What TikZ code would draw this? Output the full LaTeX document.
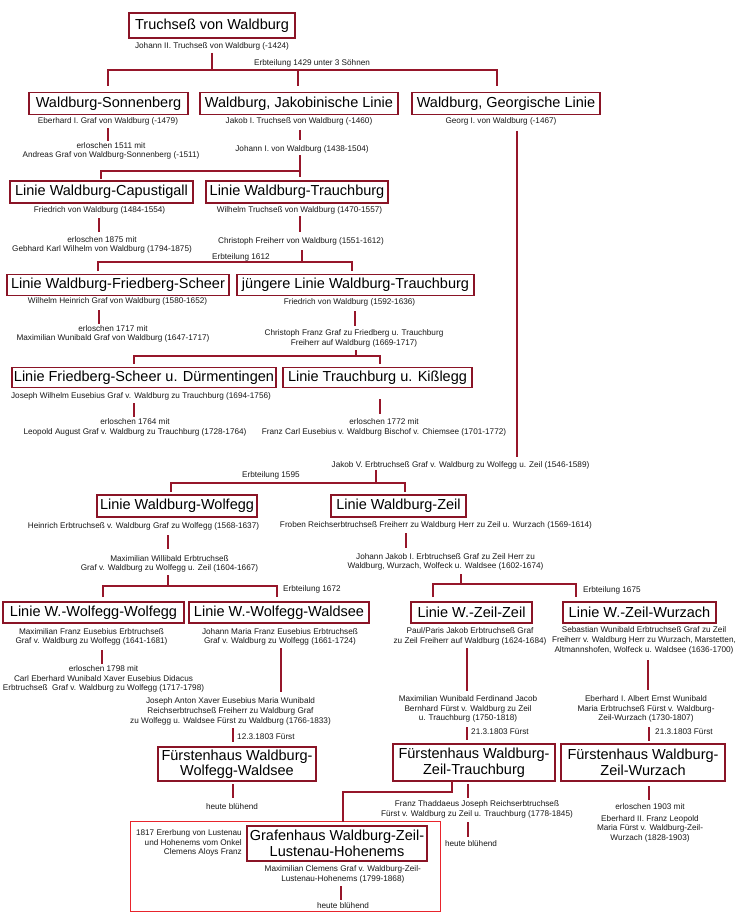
\documentclass[tikz,border=0pt]{standalone}
\usepackage{fontspec}
\setmainfont{Liberation Sans}
\definecolor{boxred}{RGB}{138,20,38}
\definecolor{linered}{RGB}{150,22,42}
\definecolor{outerred}{RGB}{232,36,44}
\definecolor{captxt}{RGB}{25,25,25}
\begin{document}
\begin{tikzpicture}[x=1pt,y=-1pt,
  bx/.style={draw=boxred, line width=1.8pt, fill=white, inner sep=0pt,
    font=\fontsize{14.5}{15.5}\selectfont, align=center, text=black},
  capt/.style={inner sep=0pt, font=\fontsize{8.2}{9.7}\selectfont, align=center, text=captxt},
  lab/.style={capt, anchor=west},
  conn/.style={draw=linered, line width=1.8pt}]
\fill[white] (0,0) rectangle (740,915);
\useasboundingbox (0,0) rectangle (740,915);

% ---------- boxes ----------
\node[bx,minimum width=166pt,minimum height=25pt] (top) at (212,25.5) {Truchseß von Waldburg};
\node[bx,minimum width=159pt,minimum height=22pt] (sonn) at (108.5,103.5) {Waldburg-Sonnenberg};
\node[bx,minimum width=198pt,minimum height=22pt] (jak) at (299,103.5) {Waldburg, Jakobinische Linie};
\node[bx,minimum width=188pt,minimum height=22pt] (georg) at (506,103.5) {Waldburg, Georgische Linie};
\node[bx,minimum width=183pt,minimum height=22pt] (capu) at (101.5,192) {Linie Waldburg-Capustigall};
\node[bx,minimum width=182pt,minimum height=22pt] (trau) at (297,192) {Linie Waldburg-Trauchburg};
\node[bx,minimum width=222pt,minimum height=21pt] (frsch) at (118,285) {Linie Waldburg-Friedberg-Scheer};
\node[bx,minimum width=237pt,minimum height=21pt] (jung) at (355.5,285) {jüngere Linie Waldburg-Trauchburg};
\node[bx,minimum width=264pt,minimum height=20pt] (duer) at (144,377.5) {Linie Friedberg-Scheer u. Dürmentingen};
\node[bx,minimum width=189pt,minimum height=20pt] (kiss) at (377.5,377.5) {Linie Trauchburg u. Kißlegg};
\node[bx,minimum width=160pt,minimum height=22pt] (wolf) at (177,506) {Linie Waldburg-Wolfegg};
\node[bx,minimum width=135pt,minimum height=22pt] (zeil) at (398.5,506) {Linie Waldburg-Zeil};
\node[bx,minimum width=181pt,minimum height=21pt] (www) at (93.5,612.5) {Linie W.-Wolfegg-Wolfegg};
\node[bx,minimum width=180pt,minimum height=21pt] (wwa) at (279,612.5) {Linie W.-Wolfegg-Waldsee};
\node[bx,minimum width=121pt,minimum height=21pt] (zz) at (471.5,612.5) {Linie W.-Zeil-Zeil};
\node[bx,minimum width=153pt,minimum height=21pt] (zw) at (639.5,612.5) {Linie W.-Zeil-Wurzach};
\node[bx,minimum width=158pt,minimum height=34pt] (fww) at (237,764) {Fürstenhaus Waldburg-\\Wolfegg-Waldsee};
\node[bx,minimum width=162pt,minimum height=37pt] (fzt) at (474,762.5) {Fürstenhaus Waldburg-\\Zeil-Trauchburg};
\node[bx,minimum width=164pt,minimum height=37pt] (fzw) at (643,762.5) {Fürstenhaus Waldburg-\\Zeil-Wurzach};
\node[draw=outerred, line width=1.5pt, inner sep=0pt, minimum width=310pt, minimum height=90pt] (frame) at (285.7,866.7) {};
\node[bx,minimum width=180pt,minimum height=35pt] (graf) at (337,843.2) {Grafenhaus Waldburg-Zeil-\\Lustenau-Hohenems};

% ---------- captions ----------
\node[capt] (k1) at (212,46) {Johann II. Truchseß von Waldburg (-1424)};
\node[lab] (e1429) at (254,63) {Erbteilung 1429 unter 3 Söhnen};
\node[capt] (k2) at (108,121.5) {Eberhard I. Graf von Waldburg (-1479)};
\node[capt] (k3) at (299,121.5) {Jakob I. Truchseß von Waldburg (-1460)};
\node[capt] (k4) at (501,121.5) {Georg I. von Waldburg (-1467)};
\node[capt] (k5) at (111,151) {erloschen 1511 mit\\Andreas Graf von Waldburg-Sonnenberg (-1511)};
\node[capt] (k6) at (302,149) {Johann I. von Waldburg (1438-1504)};
\node[capt] (k7) at (99.5,210) {Friedrich von Waldburg (1484-1554)};
\node[capt] (k8) at (299.5,210) {Wilhelm Truchseß von Waldburg (1470-1557)};
\node[capt] (k9) at (102,245) {erloschen 1875 mit\\Gebhard Karl Wilhelm von Waldburg (1794-1875)};
\node[capt] (k10) at (301,241.5) {Christoph Freiherr von Waldburg (1551-1612)};
\node[lab] (e1612) at (212,257) {Erbteilung 1612};
\node[capt] (k11) at (117.5,301.5) {Wilhelm Heinrich Graf von Waldburg (1580-1652)};
\node[capt] (k12) at (349.5,302) {Friedrich von Waldburg (1592-1636)};
\node[capt] (k13) at (113,334) {erloschen 1717 mit\\Maximilian Wunibald Graf von Waldburg (1647-1717)};
\node[capt] (k14) at (354,338.5) {Christoph Franz Graf zu Friedberg u. Trauchburg\\Freiherr auf Waldburg (1669-1717)};
\node[capt] (k15) at (141,396) {Joseph Wilhelm Eusebius Graf v. Waldburg zu Trauchburg (1694-1756)};
\node[capt] (k16) at (135,427.5) {erloschen 1764 mit\\Leopold August Graf v. Waldburg zu Trauchburg (1728-1764)};
\node[capt] (k17) at (384,427.5) {erloschen 1772 mit\\Franz Carl Eusebius v. Waldburg Bischof v. Chiemsee (1701-1772)};
\node[capt] (k18) at (460.5,465) {Jakob V. Erbtruchseß Graf v. Waldburg zu Wolfegg u. Zeil (1546-1589)};
\node[lab] (e1595) at (242,475) {Erbteilung 1595};
\node[capt] (k19) at (143.5,526) {Heinrich Erbtruchseß v. Waldburg Graf zu Wolfegg (1568-1637)};
\node[capt] (k20) at (436,525) {Froben Reichserbtruchseß Freiherr zu Waldburg Herr zu Zeil u. Wurzach (1569-1614)};
\node[capt] (k21) at (169.5,564) {Maximilian Willibald Erbtruchseß\\Graf v. Waldburg zu Wolfegg u. Zeil (1604-1667)};
\node[lab] (e1672) at (283,589) {Erbteilung 1672};
\node[capt] (k22) at (445.5,562) {Johann Jakob I. Erbtruchseß Graf zu Zeil Herr zu\\Waldburg, Wurzach, Wolfeck u. Waldsee (1602-1674)};
\node[lab] (e1675) at (583,590) {Erbteilung 1675};
\node[capt] (k23) at (91.5,637) {Maximilian Franz Eusebius Erbtruchseß\\Graf v. Waldburg zu Wolfegg (1641-1681)};
\node[capt] (k24) at (103.5,679) {erloschen 1798 mit\\Carl Eberhard Wunibald Xaver Eusebius Didacus\\Erbtruchseß\ \ Graf v. Waldburg zu Wolfegg (1717-1798)};
\node[capt] (k25) at (280,637) {Johann Maria Franz Eusebius Erbtruchseß\\Graf v. Waldburg zu Wolfegg (1661-1724)};
\node[capt] (k26) at (230.5,711.5) {Joseph Anton Xaver Eusebius Maria Wunibald\\Reichserbtruchseß Freiherr zu Waldburg Graf\\zu Wolfegg u. Waldsee Fürst zu Waldburg (1766-1833)};
\node[lab] (f1) at (237,737) {12.3.1803 Fürst};
\node[capt] (h1) at (232,807) {heute blühend};
\node[capt] (k27) at (470,636.5) {Paul/Paris Jakob Erbtruchseß Graf\\zu Zeil Freiherr auf Waldburg (1624-1684)};
\node[capt] (k28) at (468,709) {Maximilian Wunibald Ferdinand Jacob\\Bernhard Fürst v. Waldburg zu Zeil\\u. Trauchburg (1750-1818)};
\node[lab] (f2) at (471,732) {21.3.1803 Fürst};
\node[capt] (k29) at (477,809.7) {Franz Thaddaeus Joseph Reichserbtruchseß\\Fürst v. Waldburg zu Zeil u. Trauchburg (1778-1845)};
\node[capt] (h2) at (471,844) {heute blühend};
\node[capt] (k30) at (644,640.5) {Sebastian Wunibald Erbtruchseß Graf zu Zeil\\Freiherr v. Waldburg Herr zu Wurzach, Marstetten,\\Altmannshofen, Wolfeck u. Waldsee (1636-1700)};
\node[capt] (k31) at (646,709) {Eberhard I. Albert Ernst Wunibald\\Maria Erbtruchseß Fürst v. Waldburg-\\Zeil-Wurzach (1730-1807)};
\node[lab] (f3) at (655,732) {21.3.1803 Fürst};
\node[capt] (k32) at (650,806.5) {erloschen 1903 mit};
\node[capt] (k33) at (650,828.7) {Eberhard II. Franz Leopold\\Maria Fürst v. Waldburg-Zeil-\\Wurzach (1828-1903)};
\node[capt, align=right, anchor=east] (k34) at (242,843) {1817 Ererbung von Lustenau\\und Hohenems vom Onkel\\Clemens Aloys Franz};
\node[capt] (k35) at (342.8,874.7) {Maximilian Clemens Graf v. Waldburg-Zeil-\\Lustenau-Hohenems (1799-1868)};
\node[capt] (h3) at (343,905.7) {heute blühend};

% ---------- connector coordinates ----------
\path coordinate (a1) at (212,53) coordinate (a2) at (212,70)
      coordinate (aL) at (108,86) coordinate (aM) at (298,86) coordinate (aR) at (496.7,86)
      coordinate (b1) at (108,128) coordinate (b2) at (108,141)
      coordinate (c1) at (300,130) coordinate (c2) at (300,140)
      coordinate (c3) at (300,155) coordinate (c4) at (300,177) coordinate (cj) at (300,171)
      coordinate (cL) at (101,179)
      coordinate (d1) at (99,218) coordinate (d2) at (99,232)
      coordinate (e1) at (300,216) coordinate (e2) at (300,232)
      coordinate (e3) at (302,250) coordinate (e4) at (302,262)
      coordinate (eL) at (98,271) coordinate (eR) at (352,271)
      coordinate (g1) at (99,310) coordinate (g2) at (99,324)
      coordinate (i1) at (355,311) coordinate (i2) at (355,326)
      coordinate (i3) at (356,350) coordinate (i4) at (356,356)
      coordinate (iL) at (134,364) coordinate (iR) at (380,364)
      coordinate (m1) at (134,403) coordinate (m2) at (134,417)
      coordinate (n1) at (380,399) coordinate (n2) at (380,414)
      coordinate (o1) at (517,131) coordinate (o2) at (517,457)
      coordinate (p1) at (376,470) coordinate (p2) at (376,483)
      coordinate (pL) at (171,492) coordinate (pR) at (405,492)
      coordinate (q1) at (168,535) coordinate (q2) at (168,549)
      coordinate (q3) at (168,575) coordinate (q4) at (168,586)
      coordinate (qL) at (103,597) coordinate (qR) at (277,597)
      coordinate (r1) at (406,533) coordinate (r2) at (406,548)
      coordinate (r3) at (461,574) coordinate (r4) at (461,584)
      coordinate (rL) at (433,597) coordinate (rR) at (576,597)
      coordinate (s1) at (102,650) coordinate (s2) at (102,664)
      coordinate (t1) at (281,648) coordinate (t2) at (281,692)
      coordinate (t3) at (233,728) coordinate (t4) at (233,742)
      coordinate (u1) at (233,784) coordinate (u2) at (233,798)
      coordinate (v1) at (467,648) coordinate (v2) at (467,691)
      coordinate (v3) at (467,727) coordinate (v4) at (467,740)
      coordinate (w1) at (452,781) coordinate (w2) at (452,791.7)
      coordinate (w3) at (342.7,821.7)
      coordinate (x1) at (468,784) coordinate (x2) at (468,798)
      coordinate (x3) at (468,822) coordinate (x4) at (468,837)
      coordinate (y1) at (648,660) coordinate (y2) at (648,690)
      coordinate (y3) at (649,727) coordinate (y4) at (649,741)
      coordinate (z1) at (649,786) coordinate (z2) at (649,800)
      coordinate (zz1) at (341,886) coordinate (zz2) at (341,900);

% ---------- connectors ----------
\draw[conn] (a1) -- (a2);
\draw[conn] (aL) -- (aL |- a2) -- (aR |- a2) -- (aR);
\draw[conn] (aM) -- (aM |- a2);
\draw[conn] (b1) -- (b2);
\draw[conn] (c1) -- (c2);
\draw[conn] (c3) -- (c4);
\draw[conn] (cL) -- (cL |- cj) -- (cj);
\draw[conn] (d1) -- (d2);
\draw[conn] (e1) -- (e2);
\draw[conn] (e3) -- (e4);
\draw[conn] (eL) -- (eL |- e4) -- (eR |- e4) -- (eR);
\draw[conn] (g1) -- (g2);
\draw[conn] (i1) -- (i2);
\draw[conn] (i3) -- (i4);
\draw[conn] (iL) -- (iL |- i4) -- (iR |- i4) -- (iR);
\draw[conn] (m1) -- (m2);
\draw[conn] (n1) -- (n2);
\draw[conn] (o1) -- (o2);
\draw[conn] (p1) -- (p2);
\draw[conn] (pL) -- (pL |- p2) -- (pR |- p2) -- (pR);
\draw[conn] (q1) -- (q2);
\draw[conn] (q3) -- (q4);
\draw[conn] (qL) -- (qL |- q4) -- (qR |- q4) -- (qR);
\draw[conn] (r1) -- (r2);
\draw[conn] (r3) -- (r4);
\draw[conn] (rL) -- (rL |- r4) -- (rR |- r4) -- (rR);
\draw[conn] (s1) -- (s2);
\draw[conn] (t1) -- (t2);
\draw[conn] (t3) -- (t4);
\draw[conn] (u1) -- (u2);
\draw[conn] (v1) -- (v2);
\draw[conn] (v3) -- (v4);
\draw[conn] (w1) -- (w2) -| (w3);
\draw[conn] (x1) -- (x2);
\draw[conn] (x3) -- (x4);
\draw[conn] (y1) -- (y2);
\draw[conn] (y3) -- (y4);
\draw[conn] (z1) -- (z2);
\draw[conn] (zz1) -- (zz2);
\end{tikzpicture}
\end{document}
